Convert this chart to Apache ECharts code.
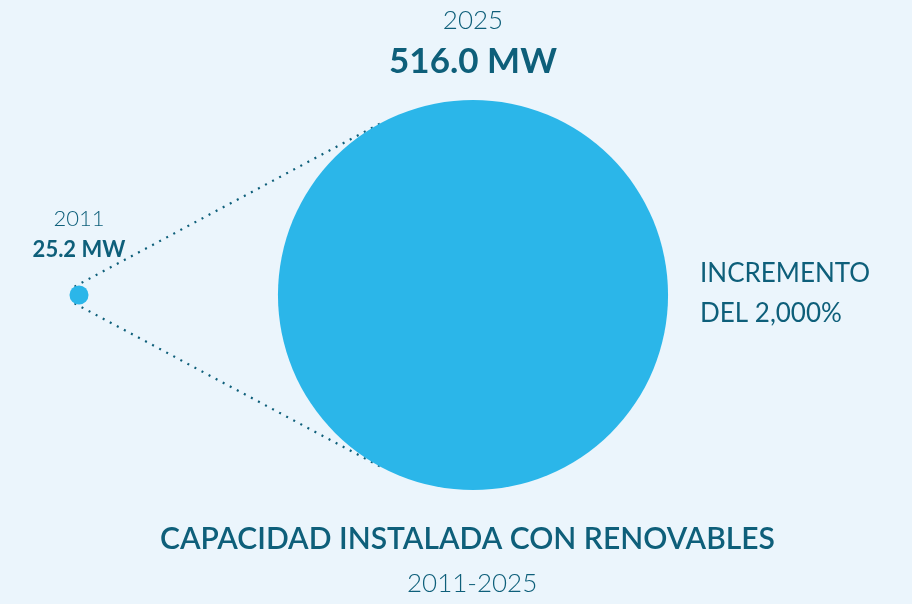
<!DOCTYPE html>
<html>
<head>
  <meta charset="utf-8">
  <title>Capacidad instalada con renovables</title>
  <script src="https://cdn.jsdelivr.net/npm/echarts@6/dist/echarts.min.js"></script>
  <style>
    html, body { margin: 0; padding: 0; background: #ebf5fc; }
    #chart { width: 912px; height: 604px; }
  </style>
</head>
<body>
  <div id="chart"></div>
  <script>
    // data
    var years = ['2011', '2025'];
    var capacityMW = [25.2, 516.0];
    var increaseLines = ['INCREMENTO', 'DEL 2,000%'];
    var chartTitle = 'CAPACIDAD INSTALADA CON RENOVABLES';
    var chartPeriod = '2011-2025';

    var TEXT = '#0e5f7a';
    var BUBBLE = '#2bb6e9';
    var FONT = 'Lato, "Noto Sans", sans-serif';
    var PX_PER_MW = 0.756; // bubble diameter per MW

    // label look for the small and the big bubble
    var labelStyles = [
      { distance: 22, yearSize: 22, yearLH: 34, valSize: 22, valLH: 28 },
      { distance: 17, yearSize: 26, yearLH: 40, valSize: 35, valLH: 42 }
    ];

    var points = capacityMW.map(function (v, i) {
      var s = labelStyles[i];
      return {
        value: [years[i], 0, v],
        label: {
          show: true,
          position: 'top',
          distance: s.distance,
          formatter: '{y|' + years[i] + '}\n{v|' + v.toFixed(1) + ' MW}',
          rich: {
            y: { fontSize: s.yearSize, lineHeight: s.yearLH, fontWeight: 300, color: TEXT, fontFamily: FONT, align: 'center' },
            v: { fontSize: s.valSize, lineHeight: s.valLH, fontWeight: 'bold', color: TEXT, fontFamily: FONT, align: 'center' }
          }
        }
      };
    });

    var chart = echarts.init(document.getElementById('chart'));
    chart.setOption({
      backgroundColor: '#ebf5fc',
      animation: false,
      title: [
        {
          text: chartTitle, left: 155, top: 519,
          textStyle: { color: TEXT, fontFamily: FONT, fontSize: 30, fontWeight: 600 }
        },
        {
          text: chartPeriod, left: 402, top: 566,
          textStyle: { color: TEXT, fontFamily: FONT, fontSize: 26, fontWeight: 300 }
        }
      ],
      grid: { left: 79, right: 439, top: 0, bottom: 14 },
      xAxis: { type: 'category', data: years, boundaryGap: false, show: false },
      yAxis: { type: 'value', min: -1, max: 1, show: false },
      series: [{
        type: 'scatter',
        data: points,
        symbolSize: function (d) { return d[2] * PX_PER_MW; },
        itemStyle: { color: BUBBLE, opacity: 1 },
        z: 3
      }]
    });

    // dotted external tangents between the two bubbles
    var c1 = chart.convertToPixel({ seriesIndex: 0 }, [years[0], 0]);
    var c2 = chart.convertToPixel({ seriesIndex: 0 }, [years[1], 0]);
    var r1 = capacityMW[0] * PX_PER_MW / 2;
    var r2 = capacityMW[1] * PX_PER_MW / 2;
    var dx = c2[0] - c1[0], dy = c2[1] - c1[1];
    var d = Math.sqrt(dx * dx + dy * dy);
    var ux = dx / d, uy = dy / d;
    var k = -(r2 - r1) / d;
    var h = Math.sqrt(1 - k * k);
    var tangents = [1, -1].map(function (sgn) {
      var nx = k * ux - sgn * h * uy;
      var ny = k * uy + sgn * h * ux;
      return {
        type: 'line',
        z: 1,
        shape: {
          x1: c1[0] + r1 * nx, y1: c1[1] + r1 * ny,
          x2: c2[0] + r2 * nx, y2: c2[1] + r2 * ny
        },
        style: { stroke: TEXT, lineWidth: 2.2, lineDash: [2, 6], lineCap: 'butt' }
      };
    });

    chart.setOption({
      graphic: tangents.concat([{
        type: 'text',
        left: 700,
        top: 254,
        style: {
          text: increaseLines.join('\n'),
          fill: TEXT,
          font: '400 26px ' + FONT,
          lineHeight: 40
        }
      }])
    });
  </script>
</body>
</html>
